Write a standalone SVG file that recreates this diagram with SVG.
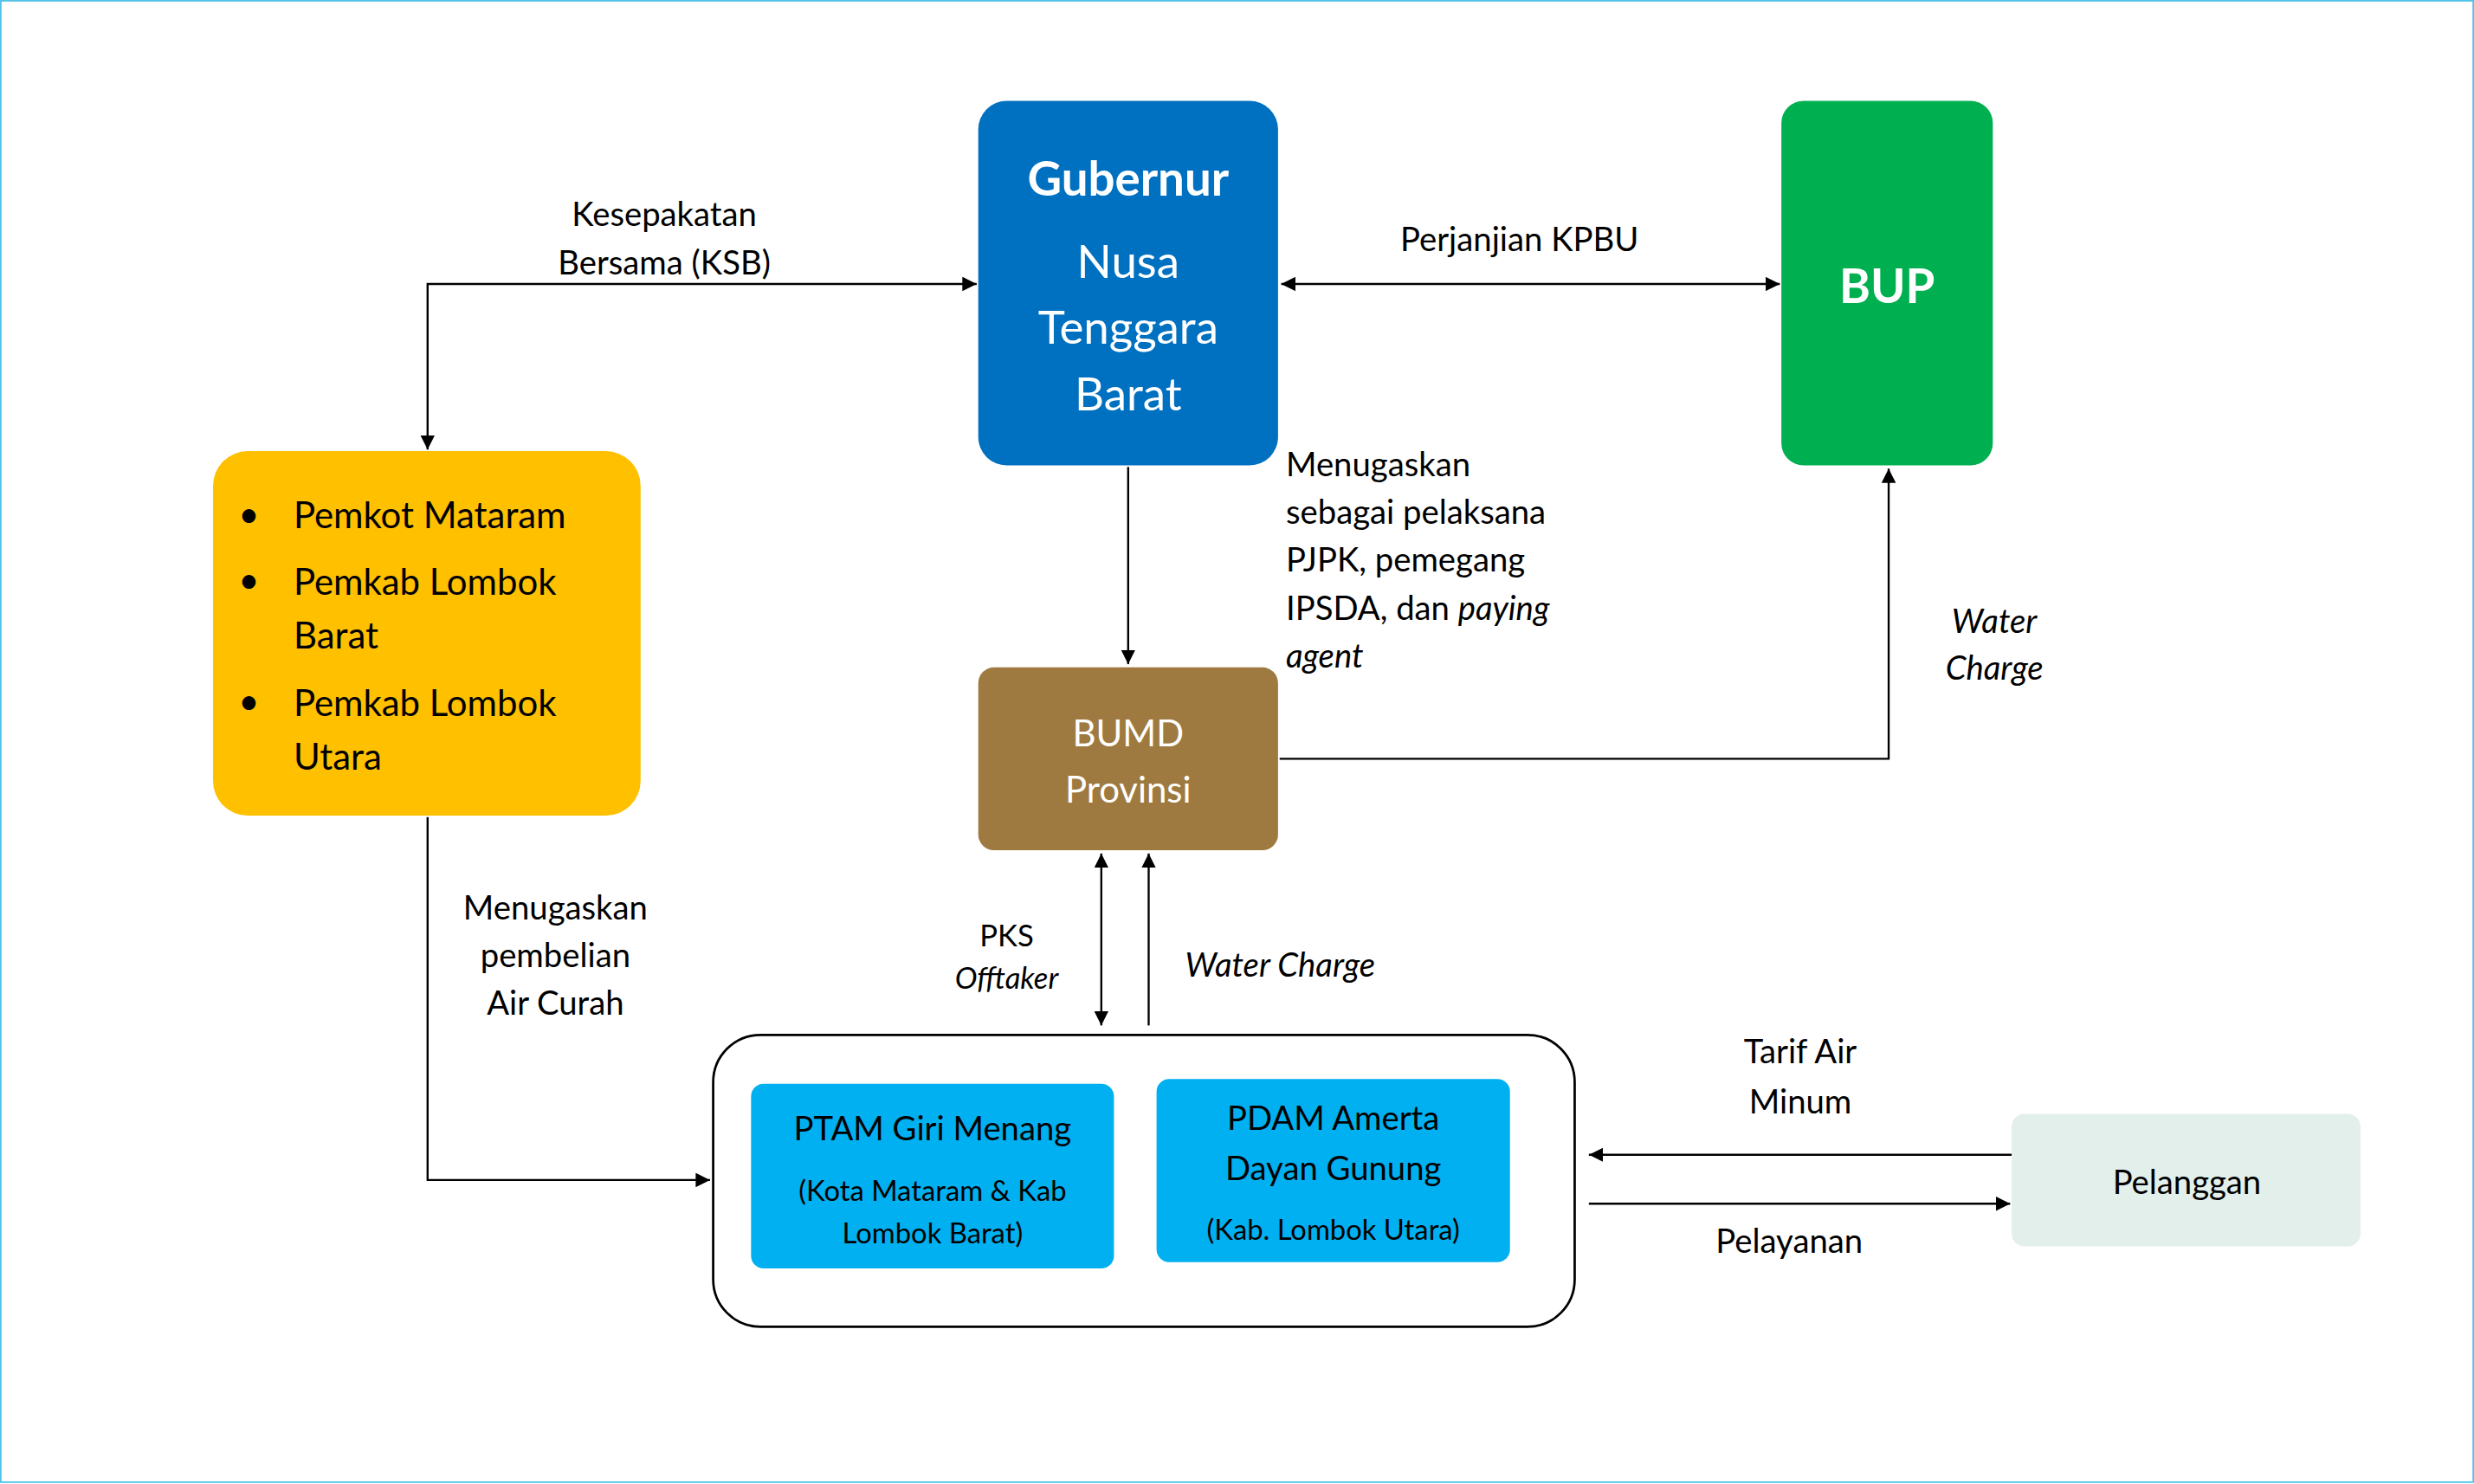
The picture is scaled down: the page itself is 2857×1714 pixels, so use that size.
<svg xmlns="http://www.w3.org/2000/svg" width="2857" height="1714" viewBox="0 0 2857 1714">
<defs>
<marker id="ah" viewBox="0 0 10 10" refX="10" refY="5" markerWidth="7" markerHeight="7" orient="auto-start-reverse"><path d="M0,0 L10,5 L0,10 z" fill="#000"/></marker>
<style>
text{font-family:Lato,"Open Sans","Liberation Sans",sans-serif;}
.w{fill:#fff}
.k{fill:#000}
.c{stroke:#000;stroke-width:1.3;fill:none}
.m{text-anchor:middle}
</style>
</defs>
<rect width="2857" height="1714" fill="#fff"/>
<g transform="scale(1.8221)">
<rect x="0.5" y="0.5" width="1567" height="939" fill="none" stroke="#4FC3E8" stroke-width="1"/>
<g id="connectors">
<path class="c" d="M271,285 V180 H619" marker-start="url(#ah)" marker-end="url(#ah)"/>
<path class="c" d="M812,180 H1128" marker-start="url(#ah)" marker-end="url(#ah)"/>
<path class="c" d="M715,296 V421" marker-end="url(#ah)"/>
<path class="c" d="M811,481 H1197 V297" marker-end="url(#ah)"/>
<path class="c" d="M271,518 V748 H450" marker-end="url(#ah)"/>
<path class="c" d="M698,541 V650" marker-start="url(#ah)" marker-end="url(#ah)"/>
<path class="c" d="M728,650 V541" marker-end="url(#ah)"/>
<path class="c" d="M1275,732 H1007" marker-end="url(#ah)"/>
<path class="c" d="M1007,763 H1274" marker-end="url(#ah)"/>
<g font-size="21" class="k">
<text x="421" y="143" class="m">Kesepakatan</text>
<text x="421" y="174" class="m">Bersama (KSB)</text>
<text x="963" y="159" class="m">Perjanjian KPBU</text>
<text x="815" y="302">Menugaskan</text>
<text x="815" y="332">sebagai pelaksana</text>
<text x="815" y="362">PJPK, pemegang</text>
<text x="815" y="393">IPSDA, dan <tspan font-style="italic">paying</tspan></text>
<text x="815" y="423" font-style="italic">agent</text>
<text x="1264" y="401" class="m" font-style="italic">Water</text>
<text x="1264" y="431" class="m" font-style="italic">Charge</text>
<text x="352" y="583" class="m">Menugaskan</text>
<text x="352" y="613" class="m">pembelian</text>
<text x="352" y="643" class="m">Air Curah</text>
<text x="638" y="600" class="m" font-size="19">PKS</text>
<text x="638" y="627" class="m" font-size="19" font-style="italic">Offtaker</text>
<text x="751" y="619" font-style="italic">Water Charge</text>
<text x="1141" y="674" class="m">Tarif Air</text>
<text x="1141" y="706" class="m">Minum</text>
<text x="1134" y="794" class="m">Pelayanan</text>
</g>
</g>
<g id="gubernur">
<rect x="620" y="64" width="190" height="231" rx="18" fill="#0070C0"/>
<text x="715" y="124" class="m w" font-size="30" font-weight="bold">Gubernur</text>
<text x="715" y="176" class="m w" font-size="29">Nusa</text>
<text x="715" y="218" class="m w" font-size="29">Tenggara</text>
<text x="715" y="260" class="m w" font-size="29">Barat</text>
</g>
<g id="bup">
<rect x="1129" y="64" width="134" height="231" rx="14" fill="#00B050"/>
<text x="1196" y="192" class="m w" font-size="30" font-weight="bold">BUP</text>
</g>
<g id="pemda">
<rect x="135" y="286" width="271" height="231" rx="22" fill="#FFC000"/>
<g font-size="23" class="k">
<text x="151" y="334">•</text><text x="186" y="335">Pemkot Mataram</text>
<text x="151" y="376">•</text><text x="186" y="377">Pemkab Lombok</text>
<text x="186" y="411">Barat</text>
<text x="151" y="453">•</text><text x="186" y="454">Pemkab Lombok</text>
<text x="186" y="488">Utara</text>
</g>
</g>
<g id="bumd">
<rect x="620" y="423" width="190" height="116" rx="10" fill="#9E7A40"/>
<text x="715" y="473" class="m w" font-size="23">BUMD</text>
<text x="715" y="509" class="m w" font-size="23">Provinsi</text>
</g>
<g id="operator">
<rect x="452" y="656" width="546" height="185" rx="30" fill="#fff" stroke="#000" stroke-width="1.5"/>
</g>
<g id="ptam">
<rect x="476" y="687" width="230" height="117" rx="8" fill="#00B0F0"/>
<text x="591" y="723" class="m k" font-size="21">PTAM Giri Menang</text>
<text x="591" y="761" class="m k" font-size="18">(Kota Mataram &amp; Kab</text>
<text x="591" y="788" class="m k" font-size="18">Lombok Barat)</text>
</g>
<g id="pdam">
<rect x="733" y="684" width="224" height="116" rx="8" fill="#00B0F0"/>
<text x="845" y="716" class="m k" font-size="21">PDAM Amerta</text>
<text x="845" y="748" class="m k" font-size="21">Dayan Gunung</text>
<text x="845" y="786" class="m k" font-size="18">(Kab. Lombok Utara)</text>
</g>
<g id="pelanggan">
<rect x="1275" y="706" width="221" height="84" rx="8" fill="#E2EFEB"/>
<text x="1386" y="757" class="m k" font-size="21">Pelanggan</text>
</g>
</g>
</svg>
